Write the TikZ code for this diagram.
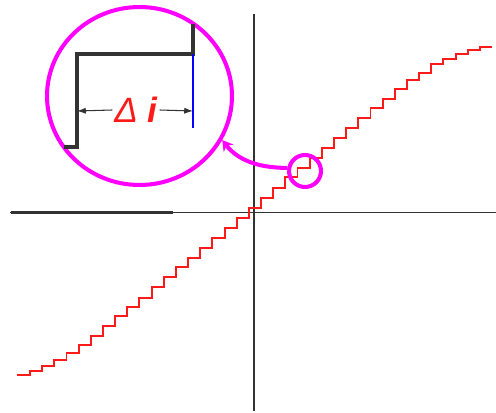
\documentclass[tikz,border=0pt]{standalone}
\usepackage{fontspec}
\newfontfamily\labfont{Liberation Sans}
\usetikzlibrary{arrows.meta,shapes.geometric}
\definecolor{ringmag}{HTML}{FF00FF}
\definecolor{stairred}{HTML}{FF1A1A}
\definecolor{axisgray}{HTML}{333333}

\begin{document}
\begin{tikzpicture}[
  x=0.02cm, y=-0.02cm, >=Stealth,
  axis/.style={draw=axisgray, line width=0.8pt},
  stair/.style={draw=stairred, line width=1.1pt},
  bigstair/.style={draw=axisgray, line width=2.3pt},
  ring/.style={draw=ringmag, line width=2.3pt, inner sep=0pt},
  dimarr/.style={-{Latex[length=5pt,width=3.5pt]}, line width=0.6pt, axisgray}
]
\useasboundingbox (0,0) rectangle (496,412);

%% Axes
\draw[axis] (10,212.5) -- (496,212.5);
\draw[axis, line width=1.3pt] (11,212.5) -- (173,212.5);
\draw[axis] (254,14) -- (254,411);
\draw[axis, line width=1.1pt] (254,277) -- (254,411);

%% Quantised curve
\draw[stair] (17,375)
  \foreach \lv [count=\k from 0] in {371,366,360,353,345,336,326,316,307,298,
      287,277,267,258,248,238,228,218,208,198,188,177,168,158,148,138,128,
      118,108,99,89,80,73,64,59,54,50,47} { -| ({30+12.16*\k},\lv) }
  -- (492,47);

%% Magnified view
\node[ring, ellipse, minimum width=3.7cm, minimum height=3.56cm] (zoom) at (139.5,96) {};
\node[ring, circle, minimum size=0.64cm] (spot) at (305,171) {};
\draw[ring, -{Stealth[length=6pt,width=7pt,inset=2pt]}]
  (spot.170) .. controls (255,168) and (236,158) .. (zoom.-28);

\draw[bigstair] (64,147) -| (77,54) -| (193,24);
\draw[blue, line width=0.6pt] (193,54) -- (193,128);

%% Step width
\coordinate (stepL) at (77,111);
\coordinate (stepR) at (193,111);
\node[text=stairred, font=\labfont\fontsize{20}{24}\selectfont, inner sep=1pt]
  (dlabel) at (136,110) {\itshape Δ\ \bfseries i};
\draw[dimarr] (dlabel.west) -- (stepL);
\draw[dimarr] (dlabel.east) -- (stepR);

\end{tikzpicture}
\end{document}
